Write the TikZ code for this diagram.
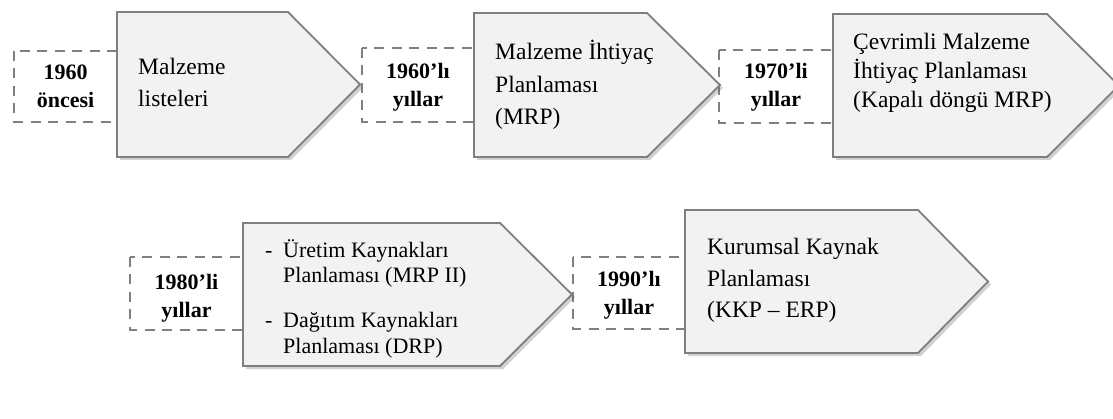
\documentclass[tikz,border=0pt]{standalone}
\usepackage{fontspec}
\setmainfont{Liberation Serif}
\usetikzlibrary{shadows}
\definecolor{boxfill}{HTML}{F2F2F2}
\definecolor{boxline}{HTML}{7F7F7F}
\definecolor{dashline}{HTML}{808080}
\begin{document}
\begin{tikzpicture}[x=1pt,y=-1pt,
  stage/.style={draw=boxline, line width=1.8pt, fill=boxfill, line join=miter,
    drop shadow={shadow xshift=3pt, shadow yshift=-3pt, opacity=0.3, fill=black!60}},
  period/.style={draw=dashline, line width=2.6pt, dash pattern=on 10pt off 7.5pt},
  yeartext/.style={font=\fontsize{22}{28}\selectfont\bfseries, anchor=base, inner sep=0pt, align=center},
  maintext/.style={anchor=base west, inner sep=0pt, align=left},
]
\useasboundingbox (0,0) rectangle (1113,419);

% dashed period boxes
\draw[period] (14,51) rectangle (117,122);
\draw[period] (362,48) rectangle (474,122);
\draw[period] (719,50) rectangle (833,123);
\draw[period] (130,257) rectangle (243,330);
\draw[period] (573,257) rectangle (685,329);

% stage pentagons
\path[stage] (117,12) -- (288,12) -- (360,84.5) -- (288,157) -- (117,157) -- cycle;
\path[stage] (474,13) -- (647,13) -- (720,85) -- (647,157) -- (474,157) -- cycle;
\path[stage] (833,14) -- (1047,14) -- (1119,85.5) -- (1047,157) -- (833,157) -- cycle;
\path[stage] (243,223) -- (500,223) -- (572,294.5) -- (500,366) -- (243,366) -- cycle;
\path[stage] (685,210) -- (918,210) -- (988,281.5) -- (918,353) -- (685,353) -- cycle;

% period labels (positioned at the baseline of the last line)
\node[yeartext] (y1) at (65.5,108) {1960\\öncesi};
\node[yeartext] (y2) at (418,107) {1960’lı\\yıllar};
\node[yeartext] (y3) at (776,107) {1970’li\\yıllar};
\node[yeartext] (y4) at (186.5,318) {1980’li\\yıllar};
\node[yeartext] (y5) at (629,315) {1990’lı\\yıllar};

% stage texts (positioned at the baseline of the last line)
\node[maintext, font=\fontsize{23.5}{32}\selectfont] (t1) at (138,107) {Malzeme\\listeleri};
\node[maintext, font=\fontsize{23.5}{32.5}\selectfont] (t2) at (495,125) {Malzeme İhtiyaç\\Planlaması\\(MRP)};
\node[maintext, font=\fontsize{23.5}{29}\selectfont] (t3) at (853,108) {Çevrimli Malzeme\\İhtiyaç Planlaması\\(Kapalı döngü MRP)};
\node[maintext, font=\fontsize{22}{25.5}\selectfont] (t4) at (265,353)
  {\makebox[18pt][l]{-}Üretim Kaynakları\\\hspace*{18pt}Planlaması (MRP II)\\[19.5pt]\makebox[18pt][l]{-}Dağıtım Kaynakları\\\hspace*{18pt}Planlaması (DRP)};
\node[maintext, font=\fontsize{23.5}{31.5}\selectfont] (t5) at (707,318) {Kurumsal Kaynak\\Planlaması\\(KKP – ERP)};
\end{tikzpicture}
\end{document}
